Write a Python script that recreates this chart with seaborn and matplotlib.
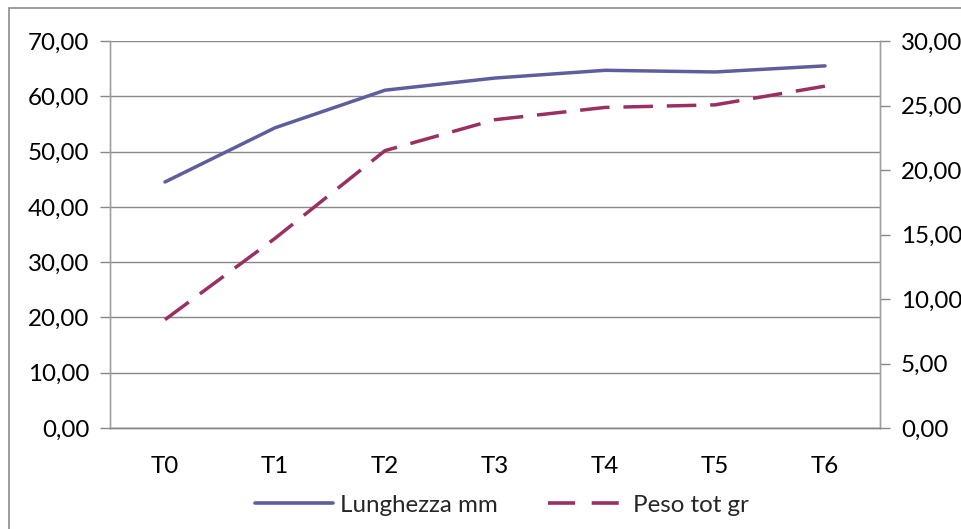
import matplotlib
matplotlib.use("Agg")
import matplotlib.pyplot as plt
import matplotlib.ticker as mticker
from matplotlib.lines import Line2D
from matplotlib.patches import Rectangle
import seaborn as sns
import pandas as pd

categories = ["T0", "T1", "T2", "T3", "T4", "T5", "T6"]
lunghezza = [44.5, 54.3, 61.1, 63.3, 64.7, 64.4, 65.5]
peso = [8.4, 14.7, 21.5, 23.9, 24.85, 25.05, 26.5]
left_ticks = [0, 10, 20, 30, 40, 50, 60, 70]
right_ticks = [0, 5, 10, 15, 20, 25, 30]

BLUE = "#5E5E9E"
RED = "#9B2F62"
GRID = "#878787"
FS = 17.4

sns.set_theme(style="white")
plt.rcParams['font.family'] = ['Lato', 'DejaVu Sans']

df = pd.DataFrame({"x": list(range(len(categories))), "L": lunghezza, "P": peso})

fig = plt.figure(figsize=(9.61, 5.29), dpi=100)
ax = fig.add_axes([110/961, 1-428/529, (880-110)/961, (428-41)/529])
ax2 = ax.twinx()

sns.lineplot(data=df, x="x", y="L", ax=ax, color=BLUE, linewidth=2.5, label="Lunghezza mm", legend=False)
sns.lineplot(data=df, x="x", y="P", ax=ax2, color=RED, linewidth=2.5, label="Peso tot gr", legend=False)
ax2.lines[0].set_linestyle((0, (8.5, 4.0)))
ax2.lines[0].set_dash_capstyle("butt")

fmt = mticker.FuncFormatter(lambda v, p: f"{v:.2f}".replace(".", ","))
ax.set_ylim(0, 70)
ax.set_yticks(left_ticks)
ax.yaxis.set_major_formatter(fmt)
ax2.set_ylim(0, 30)
ax2.set_yticks(right_ticks)
ax2.yaxis.set_major_formatter(fmt)

ax.set_xlim(-0.5, len(categories) - 0.5)
ax.set_xticks(range(len(categories)))
ax.set_xticklabels(categories)
ax.set_xticks([i - 0.5 for i in range(len(categories) + 1)], minor=True)
ax.tick_params(axis="x", which="major", length=0, pad=20, labelsize=FS, labelcolor="black")
ax.tick_params(axis="x", which="minor", length=7, width=1, color=GRID, direction="out")
ax.tick_params(axis="y", length=7, width=1, color=GRID, direction="out", pad=8, labelsize=FS, labelcolor="black")
ax2.tick_params(axis="y", length=7, width=1, color=GRID, direction="out", pad=8, labelsize=FS, labelcolor="black")

ax.set_xlabel("")
ax.set_ylabel("")
ax2.set_ylabel("")

ax.yaxis.grid(True, color=GRID, linewidth=1)
ax.set_axisbelow(True)
for a in (ax, ax2):
    a.spines["top"].set_visible(False)
    for s in ("left", "right", "bottom"):
        a.spines[s].set_color("#A0A0A0")
        a.spines[s].set_linewidth(1)
ax2.spines["bottom"].set_color(GRID)
ax.spines["bottom"].set_color(GRID)

handles = [Line2D([], [], color=BLUE, linewidth=2.6),
           Line2D([], [], color=RED, linewidth=2.6, linestyle=(0, (7.5, 4.6)), dash_capstyle="butt")]
fig.legend(handles, ["Lunghezza mm", "Peso tot gr"], loc="center", bbox_to_anchor=(0.5225, 1-505/529),
           ncol=2, frameon=False, fontsize=FS, handlelength=3.2, columnspacing=2.1, handletextpad=0.3)

fig.patches.append(Rectangle((9/961, -0.1), 1.2, 1.1 - 8/529, transform=fig.transFigure,
                             fill=False, edgecolor="#8C8C8C", linewidth=1.2))

fig.savefig("out.png", dpi=100, facecolor="white")
